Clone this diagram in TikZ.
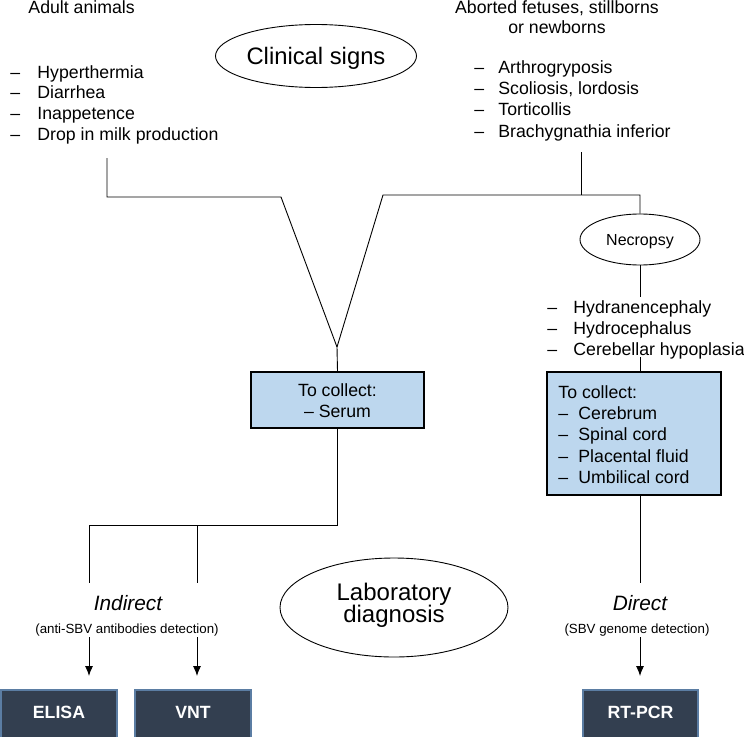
\documentclass[tikz,border=0pt]{standalone}
\usepackage{fontspec}
\setmainfont{Liberation Sans}
\usetikzlibrary{shapes.geometric,arrows.meta}
\definecolor{lightbox}{HTML}{BDD7EE}
\definecolor{darkbox}{HTML}{333F50}
\definecolor{darkedge}{HTML}{5B7DA3}
\begin{document}
\begin{tikzpicture}[x=1pt,y=-1pt,line width=0.9pt,
  body/.style={font=\fontsize{17.7}{21}\selectfont,inner sep=0pt},
  item/.style={body,anchor=base west},
  ctext/.style={body,anchor=base},
  oval/.style={ellipse,draw,inner sep=0pt,line width=0.9pt},
  lbox/.style={draw,fill=lightbox,line width=1.2pt,inner sep=0pt},
  dbox/.style={draw=darkedge,fill=darkbox,line width=1.5pt,inner sep=0pt,minimum height=50pt},
  dtext/.style={font=\fontsize{17.7}{21}\selectfont\bfseries,text=white,inner sep=0pt,anchor=base},
  arr/.style={-{Latex[length=10pt,width=8pt]}},
  method/.style={font=\fontsize{20.8}{24}\selectfont\itshape,inner sep=0pt,anchor=base},
  small/.style={font=\fontsize{13.3}{16}\selectfont,inner sep=0pt,anchor=base}]
\useasboundingbox (0,0) rectangle (744,736);

% headings
\node[item] (adulthead) at (28,13) {Adult animals};
\node[ctext] (abort1) at (557,13) {Aborted fetuses, stillborns};
\node[ctext] (abort2) at (557,33) {or newborns};

% clinical signs ellipse
\node[oval,minimum width=201pt,minimum height=63pt] (clin) at (316,56) {};
\node[anchor=base,inner sep=0pt,font=\fontsize{23.8}{28}\selectfont] (clintext) at (316,64.5) {Clinical signs};

% left list
\foreach \t [count=\i] in {Hyperthermia,Diarrhea,Inappetence,Drop in milk production}
  \node[item] (adult\i) at (10,{78+20.7*(\i-1)}) {\makebox[27pt][l]{–}\t};

% right list
\foreach \t [count=\i] in {Arthrogryposis,{Scoliosis, lordosis},Torticollis,Brachygnathia inferior}
  \node[item] (fet\i) at (474,{73.5+21.2*(\i-1)}) {\makebox[24pt][l]{–}\t};

% junction coordinates
\coordinate (lt) at (107,158);
\coordinate (lc) at (107,197);
\coordinate (lv) at (281,197);
\coordinate (apex) at (337,347);
\coordinate (rv) at (383,195);
\coordinate (rt) at (581,152);
\coordinate (rc) at (581,195);
\coordinate (nc) at (640,195);

% serum box
\node[lbox,minimum width=173pt,minimum height=56pt] (serum) at (337.5,400) {};
\node[ctext] (serum1) at (337.5,396) {To collect:};
\node[ctext] (serum2) at (337.5,417) {– Serum};

% necropsy
\node[oval,minimum width=120pt,minimum height=51pt] (necro) at (640,239.5) {};
\node[anchor=base,inner sep=0pt,font=\fontsize{16}{19}\selectfont] (necrotext) at (640,245.5) {Necropsy};

\foreach \t [count=\i] in {Hydranencephaly,Hydrocephalus,Cerebellar hypoplasia}
  \node[item] (nec\i) at (547,{313+21.3*(\i-1)}) {\makebox[26pt][l]{–}\t};
\coordinate (nlt) at (640,297);
\coordinate (nlb) at (640,357);

% right box
\node[lbox,minimum width=174pt,minimum height=123pt] (tissue) at (634,433.5) {};
\node[item] (tis0) at (558,398) {To collect:};
\foreach \t [count=\i] in {Cerebrum,Spinal cord,Placental fluid,Umbilical cord}
  \node[item] (tis\i) at (558,{398+21.4*\i}) {\makebox[20pt][l]{–}\t};

% upper connectors
\draw (lt) -- (lc) -- (lv) -- (apex) -- (serum.north);
\draw (apex) -- (rv) -- (nc) -- (necro.north);
\draw (rt) -- (rc);
\draw (necro.south) -- (nlt);
\draw (nlb) -- (640,372);

% lower left
\coordinate (sb) at (337.5,525);
\coordinate (ib1) at (89,525);
\coordinate (ib2) at (197,525);
\coordinate (ie1) at (89,583);
\coordinate (ie2) at (197,583);
\draw (serum.south) -- (sb) -- (ib1) -- (ie1);
\draw (ib2) -- (ie2);

\node[method] (indirect) at (128,610.5) {Indirect};
\node[small] (indsub) at (127,633) {(anti-SBV antibodies detection)};

\coordinate (as1) at (89,637);
\coordinate (as2) at (197,637);
\coordinate (ae1) at (89,676);
\coordinate (ae2) at (197,676);
\draw[arr] (as1) -- (ae1);
\draw[arr] (as2) -- (ae2);

% lower right
\coordinate (de) at (640,583);
\draw (640,495) -- (de);
\node[method] (direct) at (640,610.5) {Direct};
\node[small] (dirsub) at (637,633) {(SBV genome detection)};
\coordinate (as3) at (640,637);
\coordinate (ae3) at (640,676);
\draw[arr] (as3) -- (ae3);

% laboratory diagnosis
\node[oval,minimum width=228pt,minimum height=99pt] (lab) at (394,607.5) {};
\node[anchor=base,inner sep=0pt,font=\fontsize{24}{28}\selectfont] (lab1) at (394,600) {Laboratory};
\node[anchor=base,inner sep=0pt,font=\fontsize{24}{28}\selectfont] (lab2) at (394,622) {diagnosis};

% method boxes
\node[dbox,minimum width=116pt] (elisa) at (59,715) {};
\node[dtext] (elisat) at (59,718.5) {ELISA};
\node[dbox,minimum width=116pt] (vnt) at (193,715) {};
\node[dtext] (vntt) at (193,718.5) {VNT};
\node[dbox,minimum width=115pt] (rtpcr) at (640.5,715) {};
\node[dtext] (rtpcrt) at (640.5,718.5) {RT-PCR};
\end{tikzpicture}
\end{document}
